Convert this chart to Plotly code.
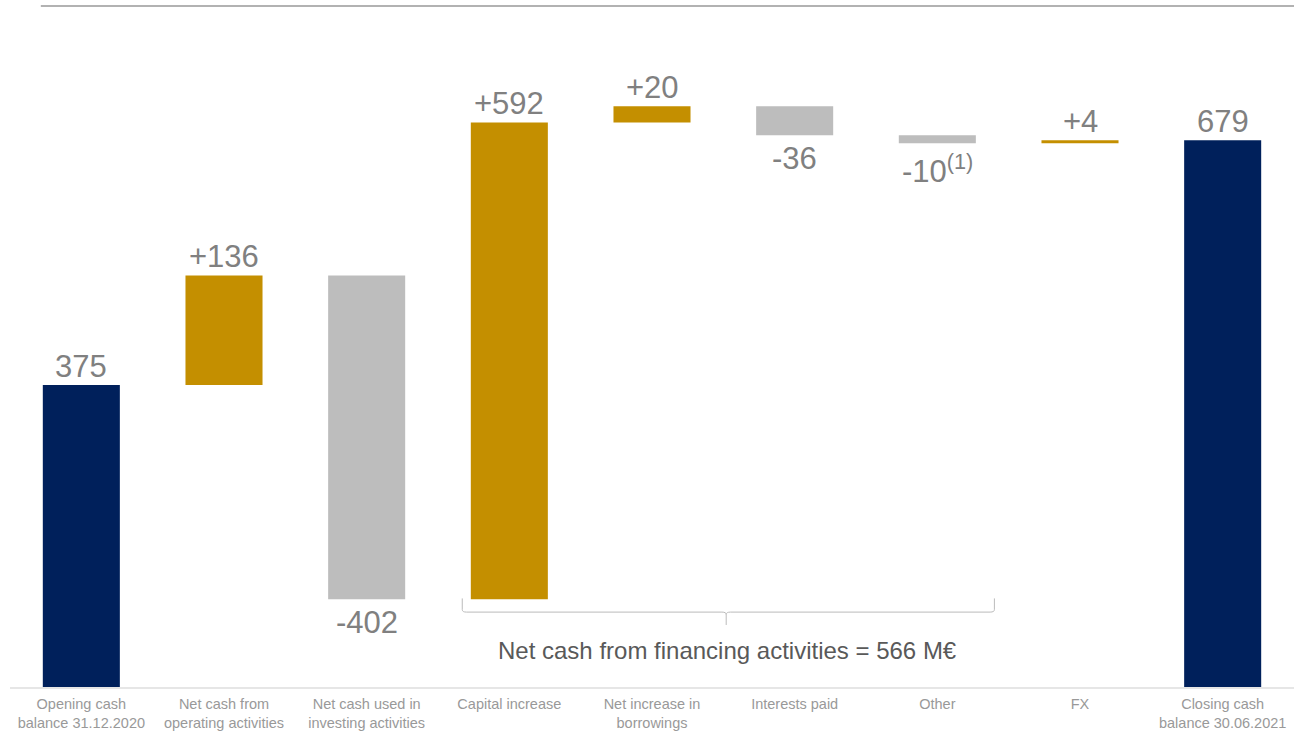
import plotly.graph_objects as go

categories = ["Opening cash<br>balance 31.12.2020", "Net cash from<br>operating activities",
              "Net cash used in<br>investing activities", "Capital increase",
              "Net increase in<br>borrowings", "Interests paid", "Other", "FX",
              "Closing cash<br>balance 30.06.2021"]
values = [375, 136, -402, 592, 20, -36, -10, 4, 679]
measures = ["absolute", "relative", "relative", "relative", "relative", "relative", "relative", "relative", "total"]
value_labels = ["375", "+136", "-402", "+592", "+20", "-36", "-10<sup>(1)</sup>", "+4", "679"]
financing_note = "Net cash from financing activities = 566 M€"

NAVY = "#00205B"
GOLD = "#C48F00"
GREY = "#BDBDBD"
LABEL = "#808080"
FONT = "Liberation Sans, Arial"

x = list(range(len(categories)))

fig = go.Figure(go.Waterfall(
    x=x, y=values, measure=measures,
    increasing=dict(marker=dict(color=GOLD)),
    decreasing=dict(marker=dict(color=GREY)),
    totals=dict(marker=dict(color=NAVY)),
    connector=dict(visible=False),
    width=0.54,
    hoverinfo="skip",
))

annotations = []
running = 0
for i, (v, m, lab) in enumerate(zip(values, measures, value_labels)):
    if m == "absolute":
        start, end = 0, v
        running = v
    elif m == "total":
        start, end = 0, running
    else:
        start, end = running, running + v
        running = end
    if v >= 0:
        annotations.append(dict(x=i, y=max(start, end), text=lab, showarrow=False,
                                yanchor="bottom", yshift=-1,
                                font=dict(size=31, color=LABEL, family=FONT)))
    else:
        annotations.append(dict(x=i, y=min(start, end), text=lab, showarrow=False,
                                yanchor="top", yshift=-4,
                                font=dict(size=31, color=LABEL, family=FONT)))

annotations.append(dict(x=4.53, y=45, text=financing_note, showarrow=False,
                        font=dict(size=24, color="#595959", family=FONT)))

xl, xr, xm = 2.67, 6.4, 4.52
yt, yb, yc = 110, 93, 77
r = 0.03
path = (f"M {xl},{yt} L {xl},{yb+3} Q {xl},{yb} {xl+r},{yb} "
        f"L {xm-r},{yb} Q {xm},{yb} {xm},{yb-3} L {xm},{yc} "
        f"M {xm},{yb-3} Q {xm},{yb} {xm+r},{yb} L {xr-r},{yb} Q {xr},{yb} {xr},{yb+3} L {xr},{yt}")

shapes = [
    dict(type="path", path=path, xref="x", yref="y", line=dict(color="#BBBBBB", width=1)),
    dict(type="line", xref="paper", yref="paper", x0=0.024, x1=1.0, y0=0.9913, y1=0.9913,
         line=dict(color="#999999", width=1.5)),
]

fig.update_layout(
    width=1294, height=733,
    margin=dict(l=10, r=0, t=0, b=46),
    plot_bgcolor="white", paper_bgcolor="white",
    showlegend=False,
    annotations=annotations,
    shapes=shapes,
    xaxis=dict(range=[-0.5, 8.5], tickmode="array", tickvals=x, ticktext=categories,
               showgrid=False, zeroline=False, showline=True, linecolor="#E6E6E6", linewidth=2,
               ticks="outside", ticklen=3, tickcolor="rgba(0,0,0,0)", automargin=False,
               tickfont=dict(size=14.5, color="#999999", family=FONT)),
    yaxis=dict(range=[0, 853], visible=False, showgrid=False, zeroline=False, automargin=False),
)

fig.write_html("out.html")
